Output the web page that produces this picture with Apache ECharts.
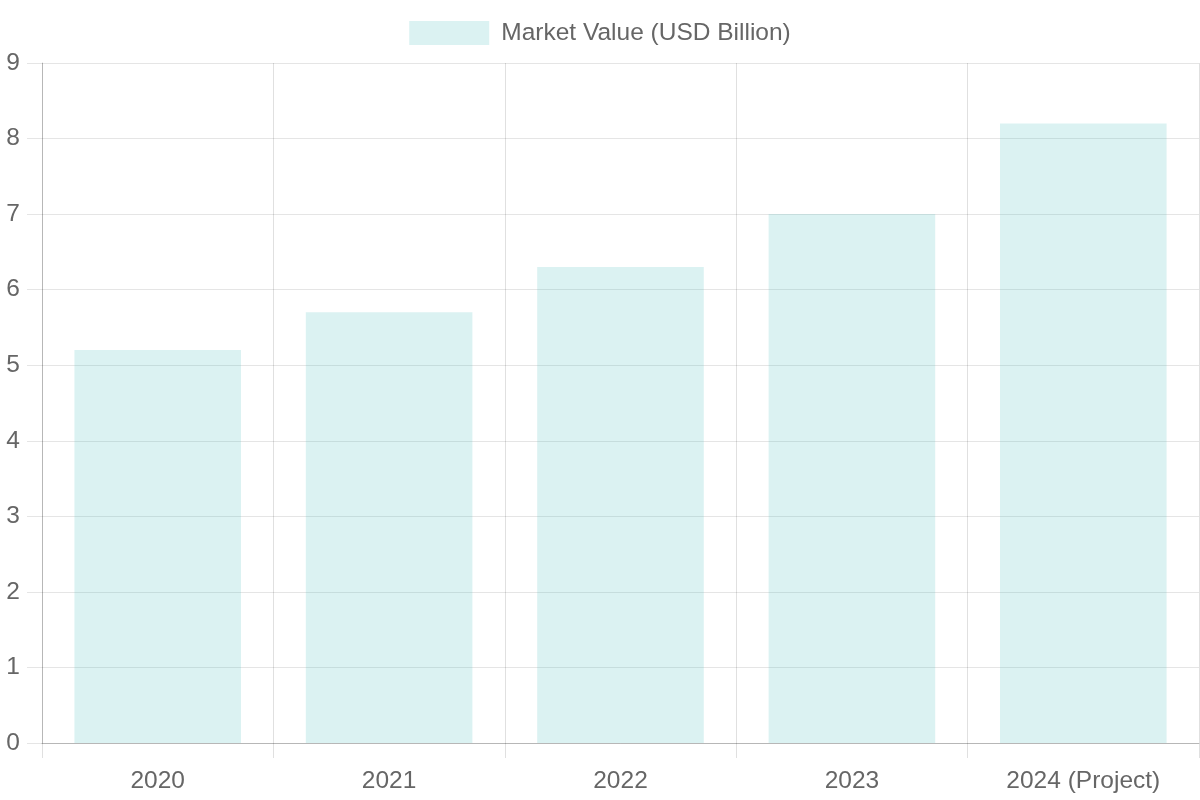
<!DOCTYPE html>
<html>
<head>
<meta charset="utf-8">
<script src="https://cdn.jsdelivr.net/npm/echarts@6/dist/echarts.min.js"></script>
<style>
html,body{margin:0;padding:0;background:#fff;}
#main{width:1200px;height:800px;}
</style>
</head>
<body>
<div id="main"></div>
<script>
const categories = ['2020', '2021', '2022', '2023', '2024 (Project)'];
const marketValues = [5.2, 5.7, 6.3, 7.0, 8.2];
const seriesName = 'Market Value (USD Billion)';

const chart = echarts.init(document.getElementById('main'), null, {renderer: 'canvas'});
const fontFamily = '"Liberation Sans", Helvetica, Arial, sans-serif';
chart.setOption({
  animation: false,
  backgroundColor: '#fff',
  textStyle: {fontFamily: fontFamily},
  legend: {
    top: 20,
    left: 'center',
    padding: 0,
    itemWidth: 80,
    itemHeight: 24,
    itemGap: 12,
    icon: 'rect',
    textStyle: {fontSize: 24.5, lineHeight: 24, color: '#666', fontFamily: fontFamily, padding: [2, 0, 0, 7]},
    data: [seriesName]
  },
  grid: {left: 42, right: 1, top: 63, bottom: 57, containLabel: false},
  xAxis: {
    type: 'category',
    data: categories,
    boundaryGap: true,
    axisLine: {show: true, lineStyle: {color: 'rgba(0,0,0,0.2)', width: 1}},
    axisTick: {show: true, length: 15, alignWithLabel: false, lineStyle: {color: 'rgba(0,0,0,0.12)'}},
    splitLine: {show: true, lineStyle: {color: 'rgba(0,0,0,0.12)', width: 1}},
    axisLabel: {fontSize: 24.5, color: '#666', margin: 26, fontFamily: fontFamily}
  },
  yAxis: {
    type: 'value',
    min: 0,
    max: 9,
    interval: 1,
    axisLine: {show: true, lineStyle: {color: 'rgba(0,0,0,0.18)', width: 1}},
    axisTick: {show: true, length: 15, lineStyle: {color: 'rgba(0,0,0,0.1)'}},
    splitLine: {show: true, lineStyle: {color: 'rgba(0,0,0,0.1)', width: 1}},
    axisLabel: {fontSize: 24.5, color: '#666', margin: 22, fontFamily: fontFamily, padding: [4, 0, 0, 0]}
  },
  series: [{
    name: seriesName,
    type: 'bar',
    data: marketValues,
    barWidth: '72%',
    z: 1,
    itemStyle: {color: 'rgba(75,192,192,0.2)'}
  }]
});
</script>
</body>
</html>
